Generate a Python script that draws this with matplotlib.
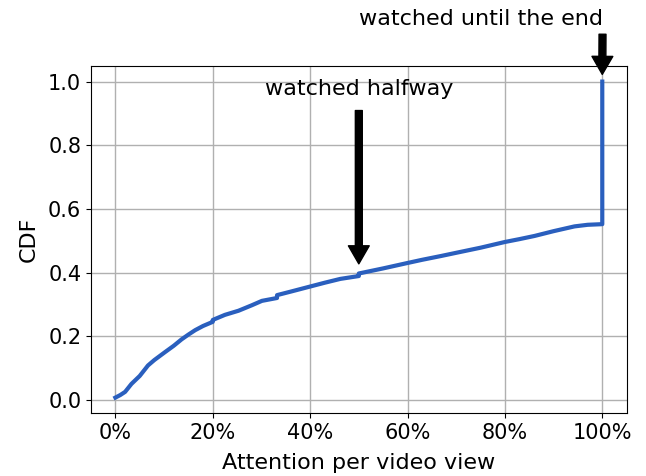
import matplotlib
matplotlib.use("Agg")
import matplotlib.pyplot as plt
from matplotlib.ticker import FuncFormatter

# Attention (percent of video watched) and cumulative fraction of views
attention = [0, 1, 2, 3.3, 5, 6.7, 8, 10.2, 12, 13.6, 15, 16.4, 18, 20, 20, 22.5, 25.3,
             28, 30.1, 33.2, 33.2, 36, 40, 43, 46.2, 50, 50, 55, 60, 63, 66.9, 70,
             75, 80, 83, 86.1, 90, 94.3, 97, 100, 100]
cdf = [0.007, 0.015, 0.025, 0.05, 0.075, 0.108, 0.125, 0.15, 0.17, 0.19, 0.205, 0.219,
       0.232, 0.245, 0.251, 0.267, 0.28, 0.297, 0.311, 0.32, 0.329, 0.34, 0.356,
       0.368, 0.38, 0.389, 0.397, 0.413, 0.43, 0.44, 0.452, 0.462, 0.478, 0.496,
       0.505, 0.515, 0.53, 0.545, 0.55, 0.552, 1.0]

xticks = [0, 20, 40, 60, 80, 100]
yticks = [0.0, 0.2, 0.4, 0.6, 0.8, 1.0]

fig = plt.figure(figsize=(6.46, 4.76), dpi=100)
ax = fig.add_axes([0.1409, 0.1315, 0.970 - 0.1409, 0.8618 - 0.1315])

ax.plot(attention, cdf, color="#2a5fbe", linewidth=3, zorder=3)

ax.set_xticks(xticks)
ax.set_yticks(yticks)
ax.xaxis.set_major_formatter(FuncFormatter(lambda v, p: f"{v:.0f}%"))
ax.yaxis.set_major_formatter(FuncFormatter(lambda v, p: f"{v:.1f}"))
ax.tick_params(labelsize=15)
ax.grid(True, color="#b0b0b0", linewidth=1)
ax.set_axisbelow(True)
ax.set_xlabel("Attention per video view", fontsize=16, labelpad=7)
ax.set_ylabel("CDF", fontsize=16, labelpad=7)

arrow = dict(facecolor="black", shrink=0.05, width=5, headwidth=15, headlength=13)
ax.annotate("watched halfway", xy=(50, 0.4), xytext=(50, 0.945),
            ha="center", va="bottom", fontsize=16, arrowprops=arrow)
ax.annotate("watched until the end", xy=(100, 1.015), xytext=(75, 1.165),
            ha="center", va="bottom", fontsize=16, arrowprops=arrow,
            annotation_clip=False)

fig.savefig("out.png", dpi=100)
